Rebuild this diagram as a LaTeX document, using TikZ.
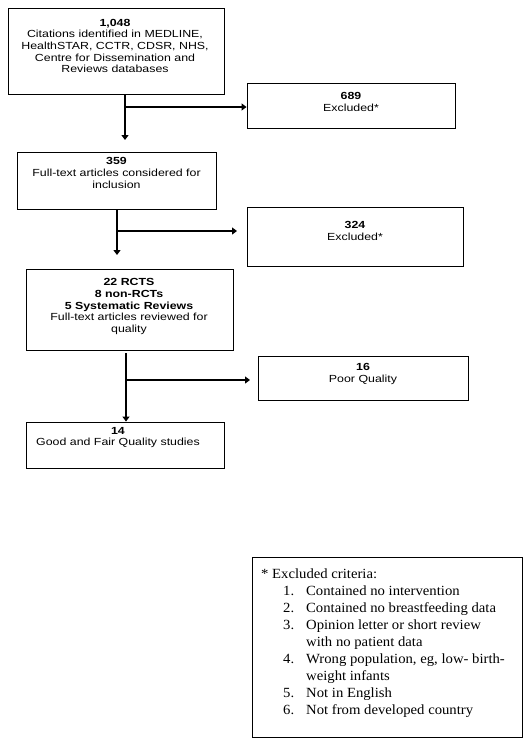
\documentclass[tikz,border=0pt]{standalone}
\usepackage{fontspec}
\setmainfont{Liberation Sans}[FakeStretch=1.2]
\newfontfamily\serifleg{Liberation Serif}[FakeStretch=1.05]
\usetikzlibrary{arrows.meta}
\newcommand{\sansfs}{\fontsize{10.3}{11.7}\selectfont}
\tikzset{
  box/.style={draw, line width=0.9pt, inner sep=0pt},
  txt/.style={align=center, inner sep=0pt, font=\sansfs},
  arr/.style={line width=1.8pt, -{Triangle[length=5pt,width=7pt]}},
}
\begin{document}
\begin{tikzpicture}[x=1pt,y=-1pt]
\useasboundingbox (0,0) rectangle (532,747);
% boxes
\node[box, minimum width=216pt, minimum height=86pt] (b1) at (116,51) {};
\node[box, minimum width=208pt, minimum height=45pt] (b2) at (351,105.5) {};
\node[box, minimum width=199pt, minimum height=57pt] (b3) at (116.5,180.5) {};
\node[box, minimum width=216pt, minimum height=59pt] (b4) at (355,236.5) {};
\node[box, minimum width=207pt, minimum height=81pt] (b5) at (129.5,309.5) {};
\node[box, minimum width=210pt, minimum height=44pt] (b6) at (363,378) {};
\node[box, minimum width=198pt, minimum height=46pt] (b7) at (125,445) {};
\node[box, minimum width=270pt, minimum height=180pt] (leg) at (387,647) {};
% texts
\node[txt] (t1) at (115,46) {\textbf{1,048}\\Citations identified in MEDLINE,\\HealthSTAR, CCTR, CDSR, NHS,\\Centre for Dissemination and\\Reviews databases};
\node[txt] (t2) at (351,102) {\textbf{689}\\Excluded*};
\node[txt] (t3) at (116.5,173) {\textbf{359}\\Full-text articles considered for\\inclusion};
\node[txt] (t4) at (355,231) {\textbf{324}\\Excluded*};
\node[txt] (t5) at (129,306.5) {\textbf{22 RCTS}\\\textbf{8 non-RCTs}\\\textbf{5 Systematic Reviews}\\Full-text articles reviewed for\\quality};
\node[txt] (t6) at (363,374) {\textbf{16}\\Poor Quality};
\node[txt] (t7) at (118,437.5) {\textbf{14}\\Good and Fair Quality studies};
\node[anchor=north west, inner sep=0pt, align=left] (tl) at (261,566) {\serifleg\fontsize{14}{17}\selectfont
\begin{tabular}{@{\hspace{22pt}}p{23pt}@{}l@{}}
\multicolumn{2}{@{}l@{}}{* Excluded criteria:}\\
1. & Contained no intervention\\
2. & Contained no breastfeeding data\\
3. & Opinion letter or short review\\
   & with no patient data\\
4. & Wrong population, eg, low- birth-\\
   & weight infants\\
5. & Not in English\\
6. & Not from developed country
\end{tabular}};
% connectors
\coordinate (a1) at (125,140);
\coordinate (j1) at (125,107);
\draw[arr] (b1.south -| a1) -- (a1);
\draw[arr] (j1) -- (j1 -| b2.west);
\coordinate (a2) at (117,255);
\coordinate (j2) at (117,231);
\coordinate (e2) at (237,231);
\draw[arr] (b3.south -| a2) -- (a2);
\draw[arr] (j2) -- (e2);
\coordinate (s3) at (126,353);
\coordinate (j3) at (126,380);
\coordinate (e3) at (250,380);
\draw[arr] (s3) -- (s3 |- b7.north);
\draw[arr] (j3) -- (e3);
\end{tikzpicture}
\end{document}
